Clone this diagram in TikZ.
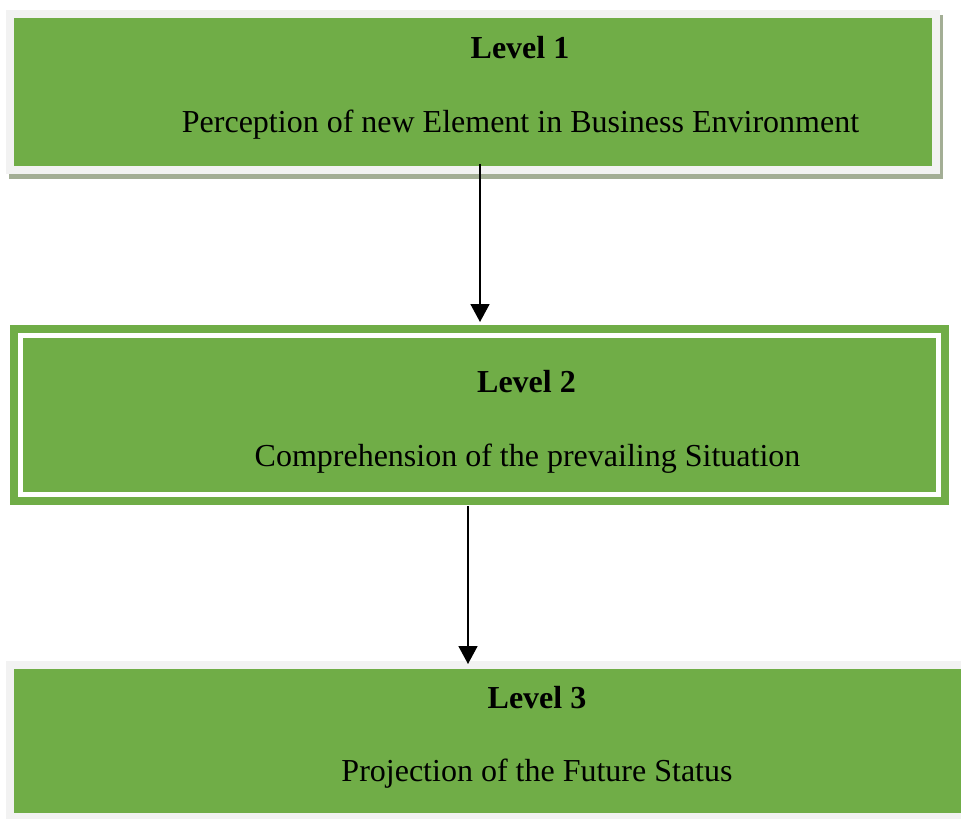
\documentclass[tikz,border=0pt]{standalone}
\usepackage{fontspec}
\setmainfont{Liberation Serif}
\usetikzlibrary{arrows.meta}
\definecolor{boxgreen}{HTML}{70AD47}
\definecolor{framegray}{HTML}{F2F2F2}
\definecolor{shadowgray}{HTML}{A3AE95}
\tikzset{
  txt/.style={anchor=base, inner sep=0pt, font=\fontsize{32}{38}\selectfont},
  ttl/.style={txt, font=\fontsize{32}{38}\selectfont\bfseries},
  conn/.style={line width=1.7pt, -{Triangle[width=19pt,length=18pt]}},
}
\begin{document}
\begin{tikzpicture}[x=1pt,y=-1pt]
\useasboundingbox (0,0) rectangle (961,819);
% Box 1
\fill[shadowgray] (9,15) rectangle (943,179);
\fill[framegray] (6,10) rectangle (940,174);
\fill[boxgreen] (14,18) rectangle (932,166);
% Box 2
\fill[boxgreen] (10,325) rectangle (949,505);
\draw[white, line width=5pt] (20.5,335.5) rectangle (938.5,494.5);
% Box 3
\fill[framegray] (6,661) rectangle (961,819);
\fill[boxgreen] (14,669) rectangle (961,813);
% Texts
\node[ttl] (l1) at (520,58) {Level 1};
\node[txt] (t1) at (520.5,132) {Perception of new Element in Business Environment};
\node[ttl] (l2) at (526.5,392) {Level 2};
\node[txt] (t2) at (527.5,466) {Comprehension of the prevailing Situation};
\node[ttl] (l3) at (537,708) {Level 3};
\node[txt] (t3) at (537,781) {Projection of the Future Status};
% Connectors
\coordinate (a1s) at (480,164);
\coordinate (a1e) at (480,322);
\coordinate (a2s) at (468,506);
\coordinate (a2e) at (468,664);
\draw[conn] (a1s) -- (a1e);
\draw[conn] (a2s) -- (a2e);
\end{tikzpicture}
\end{document}
